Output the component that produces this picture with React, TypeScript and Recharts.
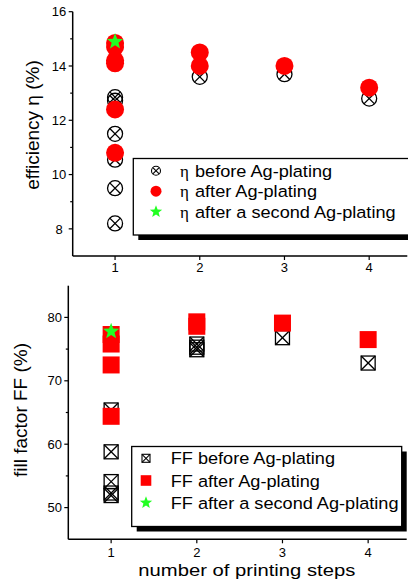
import React from 'react';
import { ScatterChart, Scatter, XAxis, YAxis } from 'recharts';

// ---------- data ----------
const stepTicks = [1, 2, 3, 4];

const effBeforeSteps = [1, 1, 1, 1, 1, 1, 2, 3, 4];
const effBeforeVals = [12.85, 12.72, 11.5, 10.55, 9.5, 8.2, 13.6, 13.7, 12.8];
const effAfterSteps = [1, 1, 1, 1, 1, 1, 2, 2, 3, 4];
const effAfterVals = [14.85, 14.7, 14.2, 14.1, 12.4, 10.8, 14.5, 14.0, 14.0, 13.2];
const effSecondSteps = [1];
const effSecondVals = [14.9];

const ffBeforeSteps = [1, 1, 1, 1, 1, 2, 2, 2, 3, 4];
const ffBeforeVals = [65.4, 58.8, 54.1, 52.3, 51.9, 75.8, 75.3, 74.9, 76.8, 72.8];
const ffAfterSteps = [1, 1, 1, 1, 2, 2, 3, 4];
const ffAfterVals = [77.3, 75.8, 72.5, 64.4, 79.3, 78.6, 79.1, 76.5];
const ffSecondSteps = [1];
const ffSecondVals = [77.8];

const effMajorTicks = [8, 10, 12, 14, 16];
const effAllTicks = [8, 9, 10, 11, 12, 13, 14, 15, 16];
const ffMajorTicks = [50, 60, 70, 80];
const ffAllTicks = [50, 55, 60, 65, 70, 75, 80];

const effLegend = ['before Ag-plating', 'after Ag-plating', 'after a second Ag-plating'];
const ffLegend = ['FF before Ag-plating', 'FF after Ag-plating', 'FF after a second Ag-plating'];

const xTitle = 'number of printing steps';
const effTitle = 'efficiency η (%)';
const ffTitle = 'fill factor FF  (%)';

const zip = (xs: number[], ys: number[]) => xs.map((x, i) => ({ x, y: ys[i] }));

const effBefore = zip(effBeforeSteps, effBeforeVals);
const effAfter = zip(effAfterSteps, effAfterVals);
const effSecond = zip(effSecondSteps, effSecondVals);
const ffBefore = zip(ffBeforeSteps, ffBeforeVals);
const ffAfter = zip(ffAfterSteps, ffAfterVals);
const ffSecond = zip(ffSecondSteps, ffSecondVals);

const FONT = 'Liberation Sans, Arial, sans-serif';
const SERIF = 'Liberation Serif, Times New Roman, serif';
const GREEN = '#22ff22';
const RED = '#ff0000';

// ---------- shapes ----------
const starPath = (cx: number, cy: number, R: number) => {
  const r = R * 0.42;
  let d = '';
  for (let i = 0; i < 10; i++) {
    const rad = i % 2 === 0 ? R : r;
    const a = -Math.PI / 2 + (i * Math.PI) / 5;
    d += (i === 0 ? 'M' : 'L') + (cx + rad * Math.cos(a)).toFixed(2) + ',' + (cy + rad * Math.sin(a)).toFixed(2);
  }
  return d + 'Z';
};

const CrossCircle = (cx: number, cy: number, r: number, sw: number) => {
  const d = r * 0.707;
  return (
    <g>
      <circle cx={cx} cy={cy} r={r} fill="none" stroke="#000" strokeWidth={sw} />
      <line x1={cx - d} y1={cy - d} x2={cx + d} y2={cy + d} stroke="#000" strokeWidth={sw} />
      <line x1={cx - d} y1={cy + d} x2={cx + d} y2={cy - d} stroke="#000" strokeWidth={sw} />
    </g>
  );
};

const CrossSquare = (cx: number, cy: number, h: number, sw: number) => (
  <g>
    <rect x={cx - h} y={cy - h} width={2 * h} height={2 * h} fill="none" stroke="#000" strokeWidth={sw} />
    <line x1={cx - h} y1={cy - h} x2={cx + h} y2={cy + h} stroke="#000" strokeWidth={sw} />
    <line x1={cx - h} y1={cy + h} x2={cx + h} y2={cy - h} stroke="#000" strokeWidth={sw} />
  </g>
);

const crossCircleShape = (p: any) => CrossCircle(p.cx, p.cy, 7.5, 1.3);
const redCircleShape = (p: any) => <circle cx={p.cx} cy={p.cy} r={9} fill={RED} />;
const starShape = (p: any) => <path d={starPath(p.cx, p.cy, 8.5)} fill={GREEN} />;
const crossSquareShape = (p: any) => CrossSquare(p.cx, p.cy, 7, 1.3);
const redSquareShape = (p: any) => <rect x={p.cx - 8.5} y={p.cy - 8.5} width={17} height={17} fill={RED} />;

// ---------- ticks ----------
const makeYTick = (majors: number[], labelOffset: number) => (props: any) => {
  const { x, y, payload } = props;
  const v = payload.value;
  const major = majors.includes(v);
  return (
    <g>
      <line x1={x} x2={x - (major ? 4 : 2.5)} y1={y} y2={y} stroke="#000" strokeWidth={1.2} />
      {major && (
        <text x={x - labelOffset} y={y} dy="0.36em" textAnchor="middle" fontSize={13} fontFamily={FONT} fill="#000">
          {v}
        </text>
      )}
    </g>
  );
};

const axisLineStyle = { stroke: '#000', strokeWidth: 1.5 };
const tickLineStyle = { stroke: '#000', strokeWidth: 1.2 };
const xTickStyle = { fontSize: 13, fontFamily: FONT, fill: '#000' };

const LEG_FS = 16.5;
const LEG_SX = 1.1;

export default function App() {
  return (
    <div style={{ position: 'absolute', left: 0, top: 0, width: 408, height: 580, overflow: 'hidden', background: '#fff' }}>
      {/* Top chart: efficiency */}
      <div style={{ position: 'absolute', left: 0, top: 0 }}>
        <ScatterChart width={440} height={280} margin={{ top: 11.7, right: 32.7, bottom: 0, left: 0 }}>
          <XAxis
            xAxisId="b"
            type="number"
            dataKey="x"
            domain={[0.5, 4.45]}
            ticks={stepTicks}
            allowDataOverflow
            height={24}
            tickSize={4}
            tickMargin={3}
            axisLine={axisLineStyle}
            tickLine={tickLineStyle}
            tick={xTickStyle}
          />
          <XAxis
            xAxisId="t"
            orientation="top"
            mirror
            type="number"
            dataKey="x"
            domain={[0.5, 4.45]}
            ticks={stepTicks}
            allowDataOverflow
            height={0}
            tickSize={4}
            axisLine={axisLineStyle}
            tickLine={tickLineStyle}
            tick={false}
          />
          <YAxis
            yAxisId="l"
            type="number"
            dataKey="y"
            domain={[7, 16]}
            ticks={effAllTicks}
            allowDataOverflow
            interval={0}
            width={72.7}
            tickSize={0}
            tickMargin={0}
            axisLine={axisLineStyle}
            tickLine={false}
            tick={makeYTick(effMajorTicks, 13.7)}
          />
          <YAxis
            yAxisId="r"
            orientation="right"
            mirror
            type="number"
            dataKey="y"
            domain={[7, 16]}
            ticks={effMajorTicks}
            allowDataOverflow
            width={0}
            tickSize={4}
            axisLine={axisLineStyle}
            tickLine={tickLineStyle}
            tick={false}
          />
          <Scatter xAxisId="b" yAxisId="l" data={effBefore} shape={crossCircleShape} isAnimationActive={false} />
          <Scatter xAxisId="b" yAxisId="l" data={effAfter} shape={redCircleShape} isAnimationActive={false} />
          <Scatter xAxisId="t" yAxisId="r" data={effSecond} shape={starShape} isAnimationActive={false} />
        </ScatterChart>
      </div>

      {/* Bottom chart: fill factor */}
      <div style={{ position: 'absolute', left: 0, top: 270 }}>
        <ScatterChart width={440} height={310} margin={{ top: 15.7, right: 33.3, bottom: 0, left: 0 }}>
          <XAxis
            xAxisId="b"
            type="number"
            dataKey="x"
            domain={[0.5, 4.45]}
            ticks={stepTicks}
            allowDataOverflow
            height={40.7}
            tickSize={4}
            tickMargin={4.5}
            axisLine={axisLineStyle}
            tickLine={tickLineStyle}
            tick={xTickStyle}
          />
          <XAxis
            xAxisId="t"
            orientation="top"
            mirror
            type="number"
            dataKey="x"
            domain={[0.5, 4.45]}
            ticks={stepTicks}
            allowDataOverflow
            height={0}
            tickSize={4}
            axisLine={axisLineStyle}
            tickLine={tickLineStyle}
            tick={false}
          />
          <YAxis
            yAxisId="l"
            type="number"
            dataKey="y"
            domain={[45, 85]}
            ticks={ffAllTicks}
            allowDataOverflow
            interval={0}
            width={68.3}
            tickSize={0}
            tickMargin={0}
            axisLine={axisLineStyle}
            tickLine={false}
            tick={makeYTick(ffMajorTicks, 13.5)}
          />
          <YAxis
            yAxisId="r"
            orientation="right"
            mirror
            type="number"
            dataKey="y"
            domain={[45, 85]}
            ticks={ffMajorTicks}
            allowDataOverflow
            width={0}
            tickSize={4}
            axisLine={axisLineStyle}
            tickLine={tickLineStyle}
            tick={false}
          />
          <Scatter xAxisId="b" yAxisId="l" data={ffBefore} shape={crossSquareShape} isAnimationActive={false} />
          <Scatter xAxisId="b" yAxisId="l" data={ffAfter} shape={redSquareShape} isAnimationActive={false} />
          <Scatter xAxisId="t" yAxisId="r" data={ffSecond} shape={starShape} isAnimationActive={false} />
        </ScatterChart>
      </div>

      {/* Titles and legends */}
      <svg width={408} height={580} style={{ position: 'absolute', left: 0, top: 0, pointerEvents: 'none' }}>
        <text
          x={0}
          y={0}
          transform="translate(32.5,125) rotate(-90)"
          textAnchor="middle"
          dominantBaseline="central"
          fontSize={19}
          fontFamily={FONT}
          fill="#000"
        >
          {effTitle}
        </text>
        <text
          x={0}
          y={0}
          transform="translate(20.5,410) rotate(-90)"
          textAnchor="middle"
          dominantBaseline="central"
          fontSize={19}
          fontFamily={FONT}
          fill="#000"
        >
          {ffTitle}
        </text>
        <text
          x={138.3}
          y={575.5}
          fontSize={17.2}
          fontFamily={FONT}
          fill="#000"
          textLength={217}
          lengthAdjust="spacingAndGlyphs"
        >
          {xTitle}
        </text>

        {/* top legend */}
        <rect x={138.3} y={163.5} width={300} height={76.5} fill="#000" />
        <rect x={133.3} y={158.5} width={300} height={76.5} fill="#fff" stroke="#000" strokeWidth={1.3} />
        {effLegend.map((label, i) => {
          const cy = 170.7 + i * 20.5;
          return (
            <g key={label}>
              {i === 0 && CrossCircle(156, cy, 4.5, 1.1)}
              {i === 1 && <circle cx={156} cy={cy} r={5.5} fill={RED} />}
              {i === 2 && <path d={starPath(156, cy, 6.5)} fill={GREEN} />}
              <text x={180} y={cy + 6} fontSize={17} fontFamily={SERIF} fill="#000">
                η
              </text>
              <g transform={`translate(195,${cy + 6}) scale(${LEG_SX},1)`}>
                <text x={0} y={0} fontSize={LEG_FS} fontFamily={FONT} fill="#000">
                  {label}
                </text>
              </g>
            </g>
          );
        })}

        {/* bottom legend */}
        <rect x={136.7} y={451.5} width={270} height={80} fill="#000" />
        <rect x={131.7} y={446.5} width={270} height={80} fill="#fff" stroke="#000" strokeWidth={1.3} />
        {ffLegend.map((label, i) => {
          const cy = 458.3 + i * 22.2;
          return (
            <g key={label}>
              {i === 0 && CrossSquare(146, cy, 4, 1.1)}
              {i === 1 && <rect x={140.7} y={cy - 5.3} width={10.6} height={10.6} fill={RED} />}
              {i === 2 && <path d={starPath(146, cy, 6.5)} fill={GREEN} />}
              <g transform={`translate(170.7,${cy + 6}) scale(${LEG_SX},1)`}>
                <text x={0} y={0} fontSize={LEG_FS} fontFamily={FONT} fill="#000">
                  {label}
                </text>
              </g>
            </g>
          );
        })}
      </svg>
    </div>
  );
}
